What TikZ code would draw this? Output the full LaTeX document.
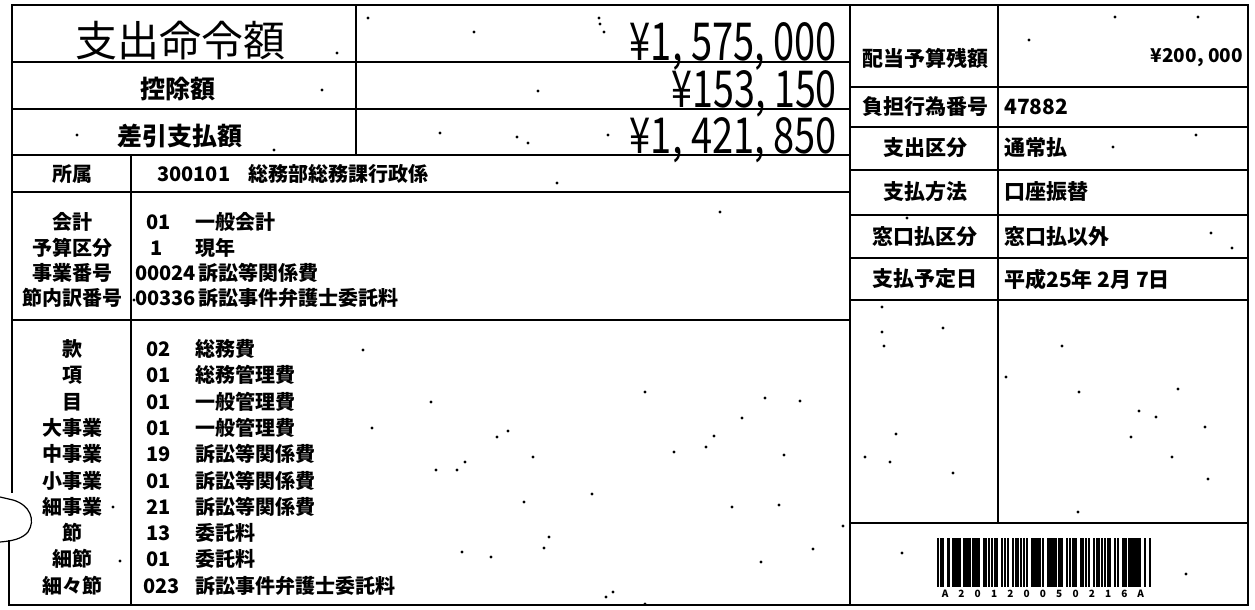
\documentclass[tikz,border=0pt]{standalone}
\usepackage{fontspec}
\usepackage{graphicx}
\usepackage{tikz}
\newfontfamily\jp{Noto Sans CJK JP}

\begin{document}
\begin{tikzpicture}[x=1pt,y=-1pt,
    rule/.style={line width=2pt},
    lbl/.style={inner sep=0pt,font=\jp\bfseries\fontsize{20}{20}\selectfont},
    side/.style={inner sep=0pt,font=\jp\bfseries\fontsize{21}{21}\selectfont},
    code/.style={lbl,anchor=west},
    head/.style={inner sep=0pt,font=\jp\bfseries\fontsize{25}{25}\selectfont},
    amount/.style={inner sep=0pt,text depth=0pt,anchor=base east,font=\jp},
    bcchar/.style={inner sep=0pt,font=\jp\bfseries\fontsize{10}{10}\selectfont}]
\useasboundingbox (0,0) rectangle (1255,610);
\fill[white] (0,0) rectangle (1255,610);
% left block
\draw[rule] (850,5) -- (12,5) -- (12,493);
\draw[rule] (9,540) -- (9,605) -- (850,605);
\draw[line width=1.2pt] (0,497) -- (13,500) .. controls (30,505) and (36,520) .. (28,532) .. controls (22,539) and (12,541) .. (0,542);
\draw[rule] (12,62) -- (850,62);
\draw[rule] (12,109) -- (850,109);
\draw[rule] (12,155) -- (850,155);
\draw[rule] (12,192) -- (850,192);
\draw[rule] (12,320) -- (850,320);
\draw[rule] (356,5) -- (356,155);
\draw[rule] (131,155) -- (131,605);
% right block
\draw[rule] (850,5) rectangle (1248,605);
\draw[rule] (998,5) -- (998,523);
\draw[rule] (850,87) -- (1248,87);
\draw[rule] (850,127) -- (1248,127);
\draw[rule] (850,170) -- (1248,170);
\draw[rule] (850,215) -- (1248,215);
\draw[rule] (850,258) -- (1248,258);
\draw[rule] (850,300) -- (1248,300);
\draw[rule] (850,523) -- (1248,523);

\node[inner sep=0pt,font=\jp\fontsize{42}{42}\selectfont] (meirei) at (180,41) {支出命令額};
\node[head] (kojo) at (178,89) {控除額};
\node[head] (sashihiki) at (180,136) {差引支払額};
\node[amount] (meireigaku) at (837,60) {\resizebox{207pt}{38pt}{¥1, 575, 000}};
\node[amount] (kojogaku) at (837,107) {\resizebox{165pt}{37pt}{¥153, 150}};
\node[amount] (shiharaigaku) at (837,153) {\resizebox{207pt}{36pt}{¥1, 421, 850}};

\node[lbl] (shozoku) at (72,174) {所属};
\node[code] (shozokuno) at (157,174) {300101};
\node[code] (shozokumei) at (248,174) {総務部総務課行政係};

\node[lbl] (kaikei) at (72,222) {会計};
\node[lbl] (yosan) at (72,248) {予算区分};
\node[lbl] (jigyo) at (72,273) {事業番号};
\node[lbl] (setsunai) at (72,298) {節内訳番号};
\node[code] (kaikeino) at (146,222) {01};
\node[lbl] (yosanno) at (157,248) {1};
\node[code] (jigyono) at (135,273) {00024};
\node[code] (setsunaino) at (135,298) {00336};
\node[code] (kaikeimei) at (195,222) {一般会計};
\node[code] (yosanmei) at (195,248) {現年};
\node[code] (jigyomei) at (198,273) {訴訟等関係費};
\node[code] (setsunaimei) at (198,298) {訴訟事件弁護士委託料};

\node[lbl] (kan) at (72,349) {款};
\node[lbl] (ko) at (72,375) {項};
\node[lbl] (moku) at (72,402) {目};
\node[lbl] (daijigyo) at (72,428) {大事業};
\node[lbl] (chujigyo) at (72,454) {中事業};
\node[lbl] (shojigyo) at (72,481) {小事業};
\node[lbl] (saijigyo) at (72,507) {細事業};
\node[lbl] (setsu) at (72,533) {節};
\node[lbl] (saisetsu) at (72,559) {細節};
\node[lbl] (saisaisetsu) at (72,586) {細々節};
\node[code] (kanno) at (146,349) {02};
\node[code] (kono) at (146,375) {01};
\node[code] (mokuno) at (146,402) {01};
\node[code] (daijigyono) at (146,428) {01};
\node[code] (chujigyono) at (146,454) {19};
\node[code] (shojigyono) at (146,481) {01};
\node[code] (saijigyono) at (146,507) {21};
\node[code] (setsuno) at (146,533) {13};
\node[code] (saisetsuno) at (146,559) {01};
\node[code] (saisaisetsuno) at (143,586) {023};
\node[code] (kanmei) at (195,349) {総務費};
\node[code] (komei) at (195,375) {総務管理費};
\node[code] (mokumei) at (195,402) {一般管理費};
\node[code] (daijigyomei) at (195,428) {一般管理費};
\node[code] (chujigyomei) at (195,454) {訴訟等関係費};
\node[code] (shojigyomei) at (195,481) {訴訟等関係費};
\node[code] (saijigyomei) at (195,507) {訴訟等関係費};
\node[code] (setsumei) at (195,533) {委託料};
\node[code] (saisetsumei) at (195,559) {委託料};
\node[code] (saisaisetsumei) at (195,586) {訴訟事件弁護士委託料};

\node[side] (zangaku) at (925,58) {配当予算残額};
\node[side] (futan) at (925,107) {負担行為番号};
\node[side] (kubun) at (925,148) {支出区分};
\node[side] (hoho) at (925,192) {支払方法};
\node[side] (madoguchi) at (925,237) {窓口払区分};
\node[side] (yoteibi) at (925,279) {支払予定日};
\node[inner sep=0pt,anchor=east,font=\jp\bfseries\fontsize{19}{19}\selectfont] (zangakuchi) at (1243,58) {¥200, 000};
\node[side,anchor=west] (futanchi) at (1004,107) {47882};
\node[side,anchor=west] (kubunchi) at (1004,148) {通常払};
\node[side,anchor=west] (hohochi) at (1004,192) {口座振替};
\node[side,anchor=west] (madoguchichi) at (1004,237) {窓口払以外};
\node[side,anchor=west] (yoteibichi) at (1004,279) {平成25年 2月 7日};

% barcode
\def\barx{937}
\foreach \pat in {{1,1,2.5,2.5,1,2.5,1},{1,1,1,2.5,1,1,2.5},{1,1,1,1,1,2.5,2.5},{1,1,1,1,2.5,2.5,1},
                  {1,1,1,2.5,1,1,2.5},{1,1,1,1,1,2.5,2.5},{1,1,1,1,1,2.5,2.5},{2.5,1,1,1,1,2.5,1},
                  {1,1,1,1,1,2.5,2.5},{1,1,1,2.5,1,1,2.5},{1,1,1,1,2.5,2.5,1},{1,2.5,1,1,1,1,2.5},
                  {1,1,2.5,2.5,1,2.5,1}}{
  \foreach \w [count=\k] in \pat {
    \ifodd\k \fill (\barx,538) rectangle ++(\w*1.47+0.8,49); \fi
    \pgfmathsetmacro\nx{\barx+\w*1.47}\xdef\barx{\nx}
  }
  \pgfmathsetmacro\nx{\barx+1.47}\xdef\barx{\nx}
}
\foreach \c [count=\i] in {A,2,0,1,2,0,0,5,0,2,1,6,A}
  \node[bcchar] (bc\i) at ({937+16.3*(\i-0.5)},594) {\c};

% specks
\foreach \p in {(368,18),(337,53),(322,90),(77,135),(274,150),(474,32),(599,18),(600,24),(604,32),
                (538,91),(440,133),(517,137),(528,143),(608,135),(557,183),(1115,17),(1198,17),
                (1029,40),(1196,135),(1113,147),(1211,233),(1232,248),(907,218),(363,350),(113,507),
                (120,561),(134,300),(372,428),(431,402),(645,392),(765,398),(800,401),(742,418),
                (714,436),(706,447),(674,452),(784,455),(508,431),(497,437),(465,462),(436,470),
                (457,470),(533,457),(524,502),(592,494),(732,507),(779,505),(843,526),(549,537),
                (544,548),(462,552),(491,557),(813,549),(761,562),(606,597),(613,592),(645,604),
                (882,307),(882,332),(884,346),(943,328),(896,434),(865,457),(890,462),(953,473),
                (1006,377),(1062,346),(1079,392),(1178,389),(1139,411),(1156,417),(1205,427),
                (1131,437),(1172,457),(1208,479),(1078,512),(902,553),(1186,574),(720,212)}
  \fill \p circle (1.6);
\end{tikzpicture}
\end{document}
